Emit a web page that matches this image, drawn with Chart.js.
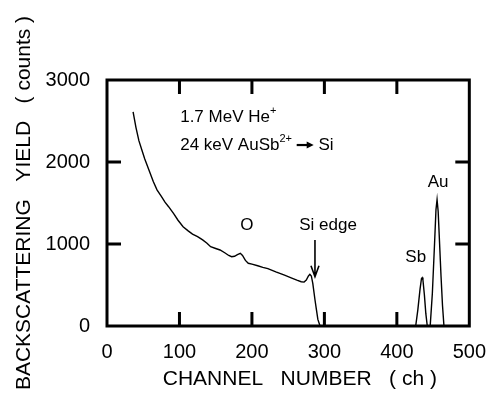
<!DOCTYPE html>
<html><head><meta charset="utf-8">
<script src="https://cdn.jsdelivr.net/npm/chart.js@4.4.0/dist/chart.umd.min.js"></script>
<style>html,body{margin:0;padding:0;background:#fff}#wrap{width:500px;height:393px;position:relative}</style>
</head><body><div id="wrap"><canvas id="c"></canvas></div>
<script>
// ---- data ----
const channels = [36,40,44,48,52,58,64,69,75,80,85,92,98,105,112,118,125,132,138,143,150,156,163,168,172,176,180,184,187,191,195,200,208,215,222,233,245,255,262,268,272,275,278,280,282,284,287,289,291,294,
  426,429,432,434,435,436,438,440,442,
  446,449,452,454,455.5,457,459,461,463,465];
const counts = [2610,2420,2260,2150,2040,1900,1760,1660,1580,1510,1455,1370,1290,1210,1160,1120,1090,1050,1010,967,945,927,890,860,845,850,870,886,860,800,765,755,735,715,700,660,620,585,560,540,535,560,610,630,610,520,320,200,80,0,
  0,200,450,580,590,560,380,150,0,
  0,400,1000,1420,1540,1400,1000,600,250,0];
const xTicks = [0,100,200,300,400,500];
const yTicks = [0,1000,2000,3000];
const xTitle = '\u00a0\u00a0\u00a0\u00a0CHANNEL   NUMBER   ( ch )';
const yTitle = 'BACKSCATTERING   YIELD   ( counts )';

// annotation anchors (data coordinates); part kinds: 0 normal, 1 superscript, 2 drawn arrow
const notes = [
  {parts:[['1.7 MeV He',0],['+',1]], ch:101, cnt:2549, align:'left', size:17},
  {parts:[['24 keV AuSb',0],['2+',1],[' ',0],['',2],[' Si',0]], ch:101, cnt:2207, align:'left', size:17},
  {parts:[['O',0]], ch:193, cnt:1232, align:'center', size:17},
  {parts:[['Si edge',0]], ch:305, cnt:1232, align:'center', size:17},
  {parts:[['Sb',0]], ch:426, cnt:841, align:'center', size:17},
  {parts:[['Au',0]], ch:457, cnt:1756, align:'center', size:17}
];
const siArrow = {ch:287, from:1049, to:601};

const FONT = "'Liberation Sans', Arial, Helvetica, sans-serif";
Chart.defaults.font.family = FONT;
Chart.defaults.color = '#000';

const frame = {
  id:'frame',
  afterDatasetsDraw(chart){
    const {ctx, chartArea:a, scales:{x,y}} = chart;
    ctx.save();
    ctx.strokeStyle='#000'; ctx.lineWidth=3; ctx.lineCap='butt';
    ctx.strokeRect(a.left,a.top,a.right-a.left,a.bottom-a.top);
    const L=14;
    ctx.beginPath();
    xTicks.forEach(v=>{ if(v<=0||v>=500) return; const p=x.getPixelForValue(v);
      ctx.moveTo(p,a.bottom); ctx.lineTo(p,a.bottom-L); ctx.moveTo(p,a.top); ctx.lineTo(p,a.top+L);});
    yTicks.forEach(v=>{ if(v<=0||v>=3000) return; const p=y.getPixelForValue(v);
      ctx.moveTo(a.left,p); ctx.lineTo(a.left+L,p); ctx.moveTo(a.right,p); ctx.lineTo(a.right-L,p);});
    ctx.stroke();

    // annotations
    ctx.fillStyle='#000'; ctx.textBaseline='middle'; ctx.textAlign='left';
    notes.forEach(n=>{
      const big = n.size;
      const fontFor = s => (s===1?Math.round(big*0.62):big)+'px '+FONT;
      const widths = n.parts.map(([t,s])=>{ if(s===2) return 17; ctx.font=fontFor(s); return ctx.measureText(t).width; });
      const total = widths.reduce((a,b)=>a+b,0);
      let px = x.getPixelForValue(n.ch); const py = y.getPixelForValue(n.cnt);
      if(n.align==='center') px -= total/2;
      n.parts.forEach(([t,s],i)=>{
        if(s===2){
          ctx.lineWidth=2.2;
          ctx.beginPath(); ctx.moveTo(px,py); ctx.lineTo(px+widths[i]-5,py); ctx.stroke();
          ctx.beginPath(); ctx.moveTo(px+widths[i],py); ctx.lineTo(px+widths[i]-7,py-3.5); ctx.lineTo(px+widths[i]-7,py+3.5); ctx.closePath(); ctx.fill();
        } else {
          ctx.font=fontFor(s);
          ctx.fillText(t, px, s===1? py-6 : py);
        }
        px += widths[i];
      });
    });
    // Si edge arrow
    const ax = x.getPixelForValue(siArrow.ch), ay1 = y.getPixelForValue(siArrow.from), ay2 = y.getPixelForValue(siArrow.to);
    ctx.lineWidth=1.6;
    ctx.beginPath(); ctx.moveTo(ax,ay1); ctx.lineTo(ax,ay2);
    ctx.moveTo(ax-4,ay2-11); ctx.lineTo(ax,ay2); ctx.lineTo(ax+4,ay2-11);
    ctx.stroke();
    ctx.restore();
  }
};

new Chart(document.getElementById('c'), {
  type:'line',
  data:{ datasets:[{ data: channels.map((c,i)=>({x:c,y:counts[i]})), borderColor:'#000', borderWidth:1.4, pointRadius:0, tension:0, fill:false, clip:false }]},
  options:{
    responsive:true, maintainAspectRatio:false, animation:false,
    layout:{padding:{left:0,right:22,top:80,bottom:0}},
    plugins:{legend:{display:false}, tooltip:{enabled:false}},
    scales:{
      x:{type:'linear', min:0, max:500,
        afterBuildTicks(s){ s.ticks = xTicks.map(v=>({value:v})); },
        afterFit(s){ s.height = 67; },
        grid:{display:false, drawTicks:false}, border:{display:false},
        ticks:{font:{size:20}, padding:14, maxRotation:0, autoSkip:false, callback:v=>String(v)},
        title:{display:true, text:xTitle, font:{size:21}, padding:{top:0,bottom:1}}
      },
      y:{type:'linear', min:0, max:3000,
        afterBuildTicks(s){ s.ticks = yTicks.map(v=>({value:v})); },
        afterFit(s){ s.width = 107; },
        grid:{display:false, drawTicks:false}, border:{display:false},
        ticks:{font:{size:20}, padding:17, callback:v=>String(v)},
        title:{display:true, text:yTitle, font:{size:21}, padding:{top:12,bottom:0}}
      }
    }
  },
  plugins:[frame]
});
</script></body></html>
